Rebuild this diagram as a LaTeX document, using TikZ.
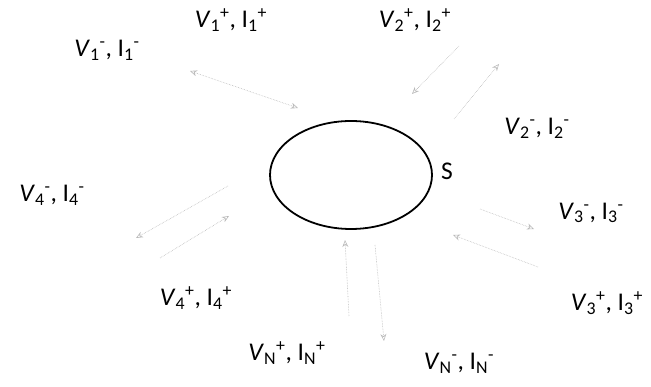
\documentclass[tikz,border=0pt]{standalone}
\usepackage{fontspec}
\setmainfont{Carlito}
\usepackage{tikz}
\usetikzlibrary{arrows.meta,shapes.geometric}

% port label: V_k^a, I_k^b
\newcommand{\portlbl}[3]{\textit{V}\textsubscript{#1}\textsuperscript{#2}, I\textsubscript{#1}\textsuperscript{#3}}

\begin{document}
\begin{tikzpicture}[
  x=1pt, y=-1pt,
  lbl/.style={font=\fontsize{25.5}{30}\selectfont, inner sep=0pt},
  wave/.style={-{Stealth[open,length=7pt,width=6pt]}, densely dotted, gray!55, line width=0.6pt},
]
  \useasboundingbox (0,0) rectangle (651,387);

  \node[draw, ellipse, line width=1.8pt, minimum width=162, minimum height=108, inner sep=0pt] (S) at (351,175) {};
  \node[lbl] (slbl) at (447,171) {S};

  % labels
  \node[lbl] (l1p) at (231,20) {\portlbl{1}{+}{+}};
  \node[lbl] (l1m) at (107,50) {\portlbl{1}{-}{-}};
  \node[lbl] (l2p) at (415,20) {\portlbl{2}{+}{+}};
  \node[lbl] (l2m) at (537,128) {\portlbl{2}{-}{-}};
  \node[lbl] (l3m) at (591,213) {\portlbl{3}{-}{-}};
  \node[lbl] (l3p) at (607,303) {\portlbl{3}{+}{+}};
  \node[lbl] (l4m) at (52,195) {\portlbl{4}{-}{-}};
  \node[lbl] (l4p) at (196,298) {\portlbl{4}{+}{+}};
  \node[lbl] (lNp) at (287,353) {\portlbl{N}{+}{+}};
  \node[lbl] (lNm) at (459,363) {\portlbl{N}{-}{-}};

  % wave ends
  \coordinate (a1) at (190,71);   \coordinate (b1) at (298,108);
  \coordinate (a2) at (459,46);   \coordinate (b2) at (412,94);
  \coordinate (c2) at (454,119);  \coordinate (d2) at (499,64);
  \coordinate (a3) at (480,209);  \coordinate (b3) at (534,229);
  \coordinate (c3) at (538,267);  \coordinate (d3) at (453,235);
  \coordinate (a4) at (228,186);  \coordinate (b4) at (136,238);
  \coordinate (c4) at (160,258);  \coordinate (d4) at (229,216);
  \coordinate (aN) at (349,316);  \coordinate (bN) at (345,240);
  \coordinate (cN) at (375,245);  \coordinate (dN) at (384,341);

  \draw[wave, {Stealth[open,length=7pt,width=6pt]}-{Stealth[open,length=7pt,width=6pt]}] (a1) -- (b1);
  \draw[wave] (a2) -- (b2);
  \draw[wave] (c2) -- (d2);
  \draw[wave] (a3) -- (b3);
  \draw[wave] (c3) -- (d3);
  \draw[wave] (a4) -- (b4);
  \draw[wave] (c4) -- (d4);
  \draw[wave] (aN) -- (bN);
  \draw[wave] (cN) -- (dN);
\end{tikzpicture}
\end{document}
